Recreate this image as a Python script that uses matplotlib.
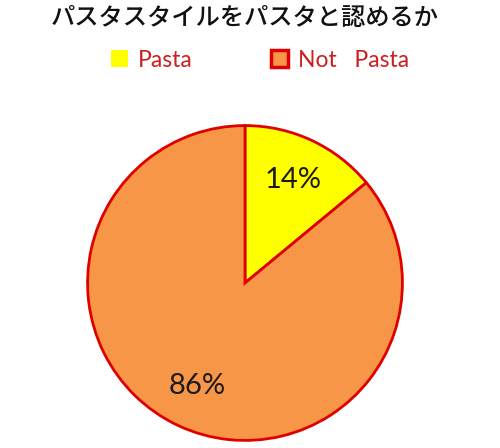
import matplotlib
matplotlib.use('Agg')
from matplotlib import pyplot as plt

labels = ['Pasta', 'Not   Pasta']
values = [14, 86]
colors = ['#FFFF00', '#F79646']
title = 'パスタスタイルをパスタと認めるか'

plt.rcParams['font.family'] = ['Lato', 'Noto Sans CJK JP', 'DejaVu Sans']

fig = plt.figure(figsize=(5.0, 4.48), dpi=100)
fig.patch.set_facecolor('white')

# pie box: centre (245, 283) px, radius ~159 px
ax = fig.add_axes([86 / 500, 6 / 448, 318 / 500, 318 / 448])
wedges, texts, autotexts = ax.pie(values, colors=colors, startangle=90, counterclock=False,
                                  autopct='%d%%', pctdistance=0.72,
                                  wedgeprops={'edgecolor': '#E00000', 'linewidth': 2},
                                  textprops={'fontsize': 21, 'color': '#1a1a1a'})
ax.set_xlim(-1.01, 1.01)
ax.set_ylim(-1.01, 1.01)
ax.set_aspect('equal')

fig.text(0.49, 0.96, title, ha='center', va='center', fontsize=17.5,
         family=['Noto Sans CJK JP'], fontweight='medium', color='#111111')

leg = fig.legend(wedges, labels, loc='center', bbox_to_anchor=(0.52, 0.866), ncol=2,
                 frameon=False, fontsize=16.5, handlelength=0.75, handleheight=0.75,
                 handletextpad=0.45, columnspacing=3.4)
for t in leg.get_texts():
    t.set_color('#CC1F1F')
leg.legend_handles[0].set_edgecolor('none')
leg.legend_handles[1].set_linewidth(2.5)

fig.savefig('out.png', dpi=100, facecolor='white')
